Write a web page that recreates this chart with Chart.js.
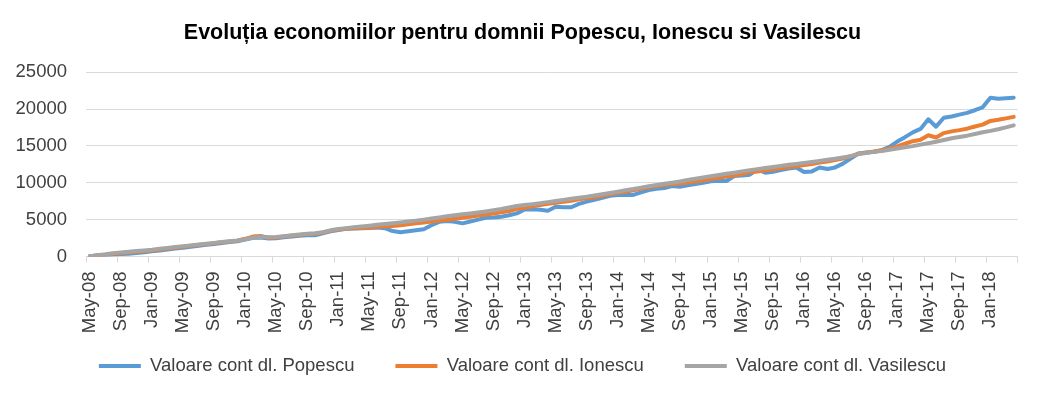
<!DOCTYPE html>
<html>
<head>
<meta charset="utf-8">
<script src="https://cdn.jsdelivr.net/npm/chart.js@4/dist/chart.umd.min.js"></script>
<style>html,body{margin:0;padding:0;background:#fff;}canvas{display:block;}</style>
</head>
<body>
<canvas id="c" width="1045" height="398"></canvas>
<script>
const titleText = "Evoluția economiilor pentru domnii Popescu, Ionescu si Vasilescu";
const seriesNames = ["Valoare cont dl. Popescu", "Valoare cont dl. Ionescu", "Valoare cont dl. Vasilescu"];

const categories = [
  "May-08","Jun-08","Jul-08","Aug-08","Sep-08","Oct-08","Nov-08","Dec-08",
  "Jan-09","Feb-09","Mar-09","Apr-09","May-09","Jun-09","Jul-09","Aug-09","Sep-09","Oct-09","Nov-09","Dec-09",
  "Jan-10","Feb-10","Mar-10","Apr-10","May-10","Jun-10","Jul-10","Aug-10","Sep-10","Oct-10","Nov-10","Dec-10",
  "Jan-11","Feb-11","Mar-11","Apr-11","May-11","Jun-11","Jul-11","Aug-11","Sep-11","Oct-11","Nov-11","Dec-11",
  "Jan-12","Feb-12","Mar-12","Apr-12","May-12","Jun-12","Jul-12","Aug-12","Sep-12","Oct-12","Nov-12","Dec-12",
  "Jan-13","Feb-13","Mar-13","Apr-13","May-13","Jun-13","Jul-13","Aug-13","Sep-13","Oct-13","Nov-13","Dec-13",
  "Jan-14","Feb-14","Mar-14","Apr-14","May-14","Jun-14","Jul-14","Aug-14","Sep-14","Oct-14","Nov-14","Dec-14",
  "Jan-15","Feb-15","Mar-15","Apr-15","May-15","Jun-15","Jul-15","Aug-15","Sep-15","Oct-15","Nov-15","Dec-15",
  "Jan-16","Feb-16","Mar-16","Apr-16","May-16","Jun-16","Jul-16","Aug-16","Sep-16","Oct-16","Nov-16","Dec-16",
  "Jan-17","Feb-17","Mar-17","Apr-17","May-17","Jun-17","Jul-17","Aug-17","Sep-17","Oct-17","Nov-17","Dec-17",
  "Jan-18","Feb-18","Mar-18","Apr-18"
];

const popescu = [
  20,120,180,260,330,380,470,580,700,820,
  950,1080,1200,1330,1450,1580,1700,1820,1950,2080,
  2300,2550,2580,2450,2480,2600,2720,2830,2900,2880,
  3150,3420,3600,3750,3800,3850,3880,3920,3850,3450,
  3300,3420,3550,3700,4250,4700,4820,4700,4500,4750,
  5000,5250,5280,5400,5600,5850,6380,6420,6350,6220,
  6750,6700,6680,7150,7450,7680,7950,8250,8330,8340,
  8360,8700,9020,9200,9300,9560,9470,9650,9850,10010,
  10200,10290,10240,10920,11000,11100,11820,11380,11500,11730,
  11950,12090,11460,11550,12090,11870,12090,12600,13300,13980,
  14100,14200,14430,14880,15600,16200,16850,17320,18620,17620,
  18840,19000,19250,19500,19850,20240,21560,21420,21480,21560
];

const ionescu = [
  30,150,250,380,470,540,640,730,830,950,
  1080,1200,1320,1450,1560,1680,1800,1920,2030,2150,
  2400,2700,2780,2550,2580,2700,2820,2930,3020,3080,
  3250,3500,3650,3760,3820,3880,3950,4020,4100,4150,
  4250,4380,4500,4620,4750,4880,5000,5120,5250,5400,
  5550,5700,5850,6000,6180,6480,6620,6800,6980,7150,
  7300,7420,7560,7750,7920,8050,8250,8450,8650,8800,
  9000,9200,9400,9550,9700,9800,9900,10050,10200,10350,
  10500,10700,10850,11000,11200,11450,11550,11700,11850,12000,
  12150,12250,12400,12560,12750,12900,13100,13300,13600,13950,
  14100,14250,14420,14650,14950,15300,15650,15850,16450,16150,
  16750,16980,17150,17350,17650,17900,18400,18550,18750,18950
];

const vasilescu = [
  50,180,300,450,560,650,740,830,920,1040,
  1150,1280,1400,1510,1620,1740,1850,1960,2070,2180,
  2350,2550,2680,2620,2650,2750,2870,2980,3080,3150,
  3300,3550,3730,3850,3960,4080,4180,4300,4400,4520,
  4630,4750,4870,5000,5150,5300,5450,5600,5720,5850,
  5980,6120,6280,6450,6650,6850,6980,7100,7220,7380,
  7520,7680,7830,7980,8120,8290,8460,8630,8800,8980,
  9150,9350,9530,9700,9860,10020,10180,10380,10560,10730,
  10880,11050,11220,11380,11550,11700,11860,12010,12150,12300,
  12450,12560,12680,12820,12980,13120,13280,13440,13620,13900,
  14050,14200,14320,14480,14660,14820,14980,15180,15380,15580,
  15820,16050,16220,16400,16620,16860,17050,17270,17520,17800
];

const yMin = 0, yMax = 25000, yStep = 5000;
const labelEvery = 4;

const FAMILY = "'Liberation Sans', Arial, sans-serif";
const GRID = '#d9d9d9';
const TEXT = '#404040';
const COLORS = ['#5B9BD5', '#ED7D31', '#A5A5A5'];

const tickMarkColor = (c) => (c.type !== 'tick' || c.index % labelEvery === 0) ? GRID : 'rgba(0,0,0,0)';

function ds(i, data, order) {
  return {
    label: seriesNames[i], data: data, order: order,
    borderColor: COLORS[i], backgroundColor: COLORS[i],
    pointBorderColor: COLORS[i], pointBackgroundColor: COLORS[i], pointBorderWidth: 4
  };
}

new Chart(document.getElementById('c'), {
  type: 'line',
  data: {
    labels: categories,
    datasets: [ds(0, popescu, 3), ds(1, ionescu, 2), ds(2, vasilescu, 1)]
  },
  options: {
    responsive: false,
    animation: false,
    devicePixelRatio: 1,
    layout: {padding: {left: 0, right: 0, top: 0, bottom: 12.75}},
    elements: {
      line: {borderWidth: 4, tension: 0, borderJoinStyle: 'round', borderCapStyle: 'round', fill: false},
      point: {radius: 0, hoverRadius: 0, hitRadius: 0}
    },
    plugins: {
      title: {
        display: true, text: titleText, color: '#000',
        font: {family: FAMILY, size: 21.5, weight: 'bold'},
        padding: {top: 20, bottom: 26.5}
      },
      legend: {
        position: 'bottom',
        labels: {
          usePointStyle: true, pointStyle: 'line', pointStyleWidth: 42,
          padding: 41, color: TEXT,
          font: {family: FAMILY, size: 18.5},
          sort: (a, b) => a.datasetIndex - b.datasetIndex
        }
      },
      tooltip: {enabled: false}
    },
    scales: {
      x: {
        offset: true,
        grid: {offset: true, drawOnChartArea: false, tickLength: 6, color: tickMarkColor, tickColor: tickMarkColor},
        border: {display: true, color: GRID, width: 1},
        ticks: {
          autoSkip: false, minRotation: 90, maxRotation: 90, padding: 9, color: TEXT,
          font: {family: FAMILY, size: 18.5},
          callback: (v, i) => (i % labelEvery === 0 ? categories[i] : '')
        },
        afterFit: (s) => { s.height = 59.25; s._computeLabelArea = () => undefined; }
      },
      y: {
        min: yMin, max: yMax,
        ticks: {stepSize: yStep, padding: 19, color: TEXT, font: {family: FAMILY, size: 18.5}, callback: (v) => String(v)},
        grid: {color: GRID, drawTicks: false, lineWidth: 1},
        border: {display: false},
        afterFit: (s) => { s.width = 86; }
      },
      yRight: {
        position: 'right', display: true,
        grid: {display: false, drawTicks: false}, border: {display: false},
        ticks: {display: false},
        afterFit: (s) => { s.width = 26; }
      }
    }
  }
});
</script>
</body>
</html>
